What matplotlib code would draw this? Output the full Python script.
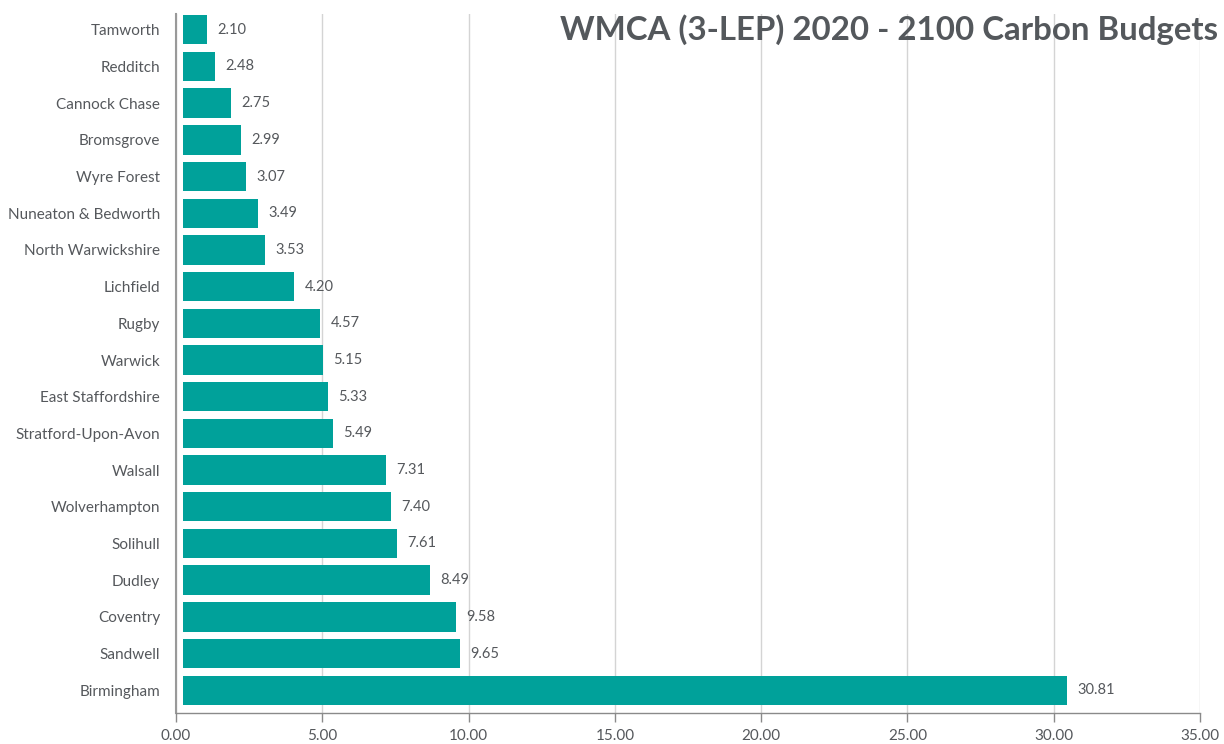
import matplotlib
matplotlib.use("Agg")
import matplotlib.pyplot as plt
import numpy as np

# Police et couleurs
matplotlib.rcParams.update({'font.family': ['Lato', 'DejaVu Sans']})

# Données (haut -> bas)
districts = ["Tamworth", "Redditch", "Cannock Chase", "Bromsgrove", "Wyre Forest",
             "Nuneaton & Bedworth", "North Warwickshire", "Lichfield", "Rugby",
             "Warwick", "East Staffordshire", "Stratford-Upon-Avon", "Walsall",
             "Wolverhampton", "Solihull", "Dudley", "Coventry", "Sandwell",
             "Birmingham"]
# longueur des barres telle que dessinée
longueurs_barres = [1.05, 1.33, 1.88, 2.22, 2.39, 2.79, 3.04, 4.03, 4.92, 5.02,
                    5.19, 5.37, 7.17, 7.34, 7.54, 8.68, 9.57, 9.71, 30.47]
# étiquettes affichées au bout des barres
etiquettes = ["2.10", "2.48", "2.75", "2.99", "3.07", "3.49", "3.53", "4.20", "4.57",
              "5.15", "5.33", "5.49", "7.31", "7.40", "7.61", "8.49", "9.58", "9.65",
              "30.81"]
graduations_x = [0, 5, 10, 15, 20, 25, 30, 35]

titre = "WMCA (3-LEP) 2020 - 2100 Carbon Budgets"

couleur_barre = "#00A19A"
couleur_texte = "#55585c"
decalage = 0.24

fig = plt.figure(figsize=(12.24, 7.44), dpi=100)
ax = fig.add_axes([176 / 1224, 1 - 713 / 744, (1200 - 176) / 1224, (713 - 14) / 744])

y = np.arange(len(districts))
longueurs = np.array(longueurs_barres)
barres = ax.barh(y, longueurs - decalage, left=decalage, height=0.8,
                 color=couleur_barre, zorder=3)

for i, (fin, txt) in enumerate(zip(longueurs, etiquettes)):
    ax.annotate(txt, (fin, i), xytext=(7.5, 0), textcoords="offset points",
                va="center", ha="left", fontsize=10.5, color=couleur_texte)

ax.set_xlim(0, 35)
ax.set_ylim(len(districts) - 1 + 0.62, -0.43)
ax.set_xticks(graduations_x)
ax.set_xticklabels([f"{v:.2f}" for v in graduations_x])
ax.set_yticks(y)
ax.set_yticklabels(districts)

ax.grid(axis="x", color="#d4d4d4", linewidth=1, zorder=0)
ax.tick_params(axis="y", length=0, pad=11.5, labelsize=11, labelcolor=couleur_texte)
ax.tick_params(axis="x", length=6.5, width=1, color="#8a8a8a", pad=5,
               labelsize=11, labelcolor=couleur_texte)

for cote in ["top", "right"]:
    ax.spines[cote].set_visible(False)
ax.spines["left"].set_color("#999999")
ax.spines["left"].set_linewidth(1.5)
ax.spines["bottom"].set_color("#8a8a8a")
ax.spines["bottom"].set_linewidth(1)

fig.text(1218 / 1224, 1 - 30 / 744, titre, ha="right", va="center",
         fontsize=23.8, fontweight="bold", color="#54585c")

fig.savefig("out.png", dpi=100)
